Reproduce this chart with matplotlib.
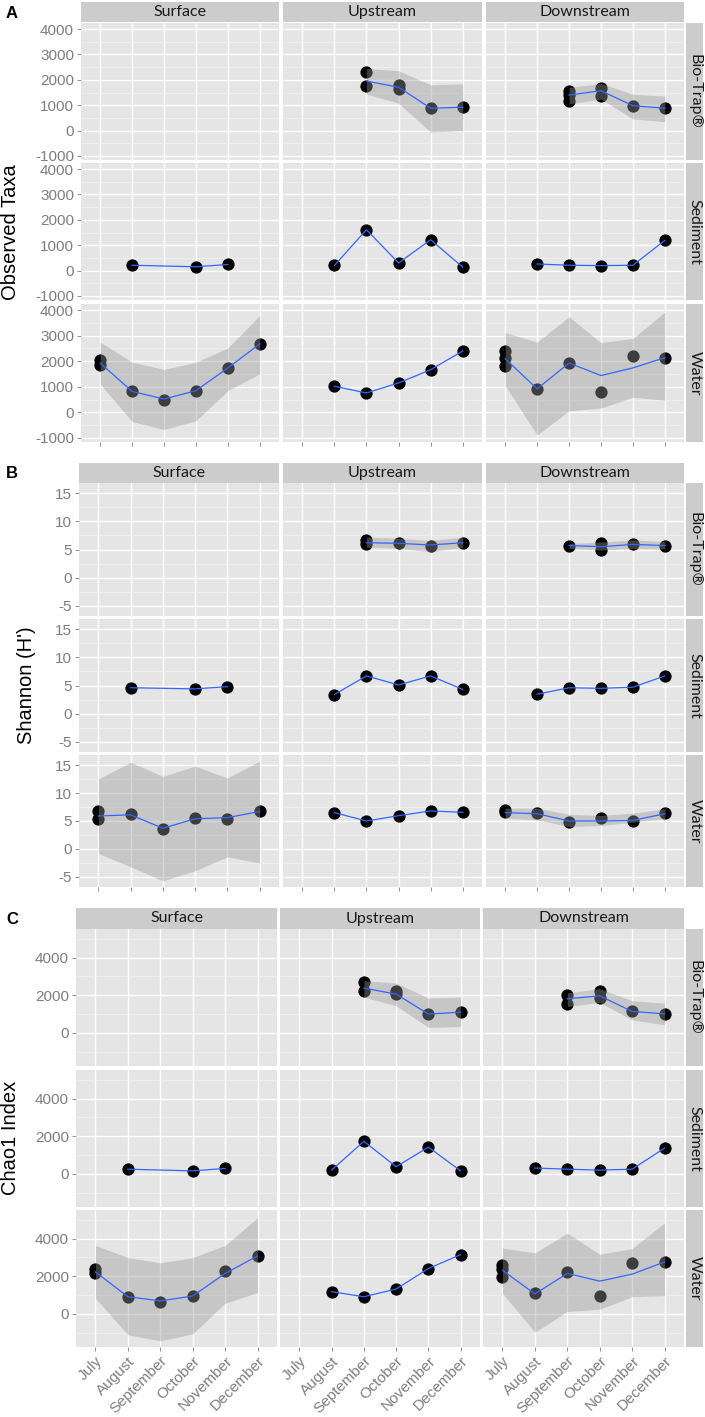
import matplotlib.pyplot as plt
import numpy as np

plt.rcParams['axes.unicode_minus'] = False

W, H = 705, 1417
months = ['July', 'August', 'September', 'October', 'November', 'December']
mon = ['Jul', 'Aug', 'Sep', 'Oct', 'Nov', 'Dec']
sites = ['Surface', 'Upstream', 'Downstream']
sample_types = ['Bio-Trap®', 'Sediment', 'Water']

# ---------------- A: Observed Taxa ----------------
obs_bio_up_x = ['Sep', 'Sep', 'Oct', 'Oct', 'Nov', 'Dec']
obs_bio_up_y = [2320, 1760, 1800, 1620, 880, 920]
obs_bio_up_fit = [1950, 1710, 880, 920]
obs_bio_up_lo = [1440, 1080, -60, 0]
obs_bio_up_hi = [2450, 2360, 1800, 1840]

obs_bio_dn_x = ['Sep', 'Sep', 'Sep', 'Oct', 'Oct', 'Nov', 'Dec']
obs_bio_dn_y = [1550, 1400, 1170, 1670, 1380, 950, 880]
obs_bio_dn_fit = [1400, 1570, 980, 880]
obs_bio_dn_lo = [1050, 1240, 460, 350]
obs_bio_dn_hi = [1700, 1860, 1430, 1360]

obs_sed_su_x = ['Aug', 'Oct', 'Nov']
obs_sed_su_y = [210, 150, 240]
obs_sed_up_x = ['Aug', 'Sep', 'Oct', 'Nov', 'Dec']
obs_sed_up_y = [200, 1610, 300, 1215, 135]
obs_sed_dn_x = ['Aug', 'Sep', 'Oct', 'Nov', 'Dec']
obs_sed_dn_y = [260, 210, 195, 210, 1190]

obs_wat_su_x = ['Jul', 'Jul', 'Aug', 'Sep', 'Oct', 'Nov', 'Dec']
obs_wat_su_y = [2050, 1860, 820, 500, 850, 1740, 2680]
obs_wat_su_fit = [1930, 820, 520, 850, 1740, 2680]
obs_wat_su_lo = [1110, -360, -670, -330, 850, 1510]
obs_wat_su_hi = [2750, 1965, 1680, 1965, 2520, 3800]

obs_wat_up_x = ['Aug', 'Sep', 'Oct', 'Nov', 'Dec']
obs_wat_up_y = [1020, 760, 1150, 1670, 2400]

obs_wat_dn_x = ['Jul', 'Jul', 'Jul', 'Aug', 'Sep', 'Oct', 'Nov', 'Dec']
obs_wat_dn_y = [2390, 2140, 1800, 920, 1930, 780, 2190, 2140]
obs_wat_dn_fit = [2100, 920, 1930, 1440, 1740, 2140]
obs_wat_dn_lo = [1050, -890, 60, 170, 590, 480]
obs_wat_dn_hi = [3120, 2750, 3740, 2730, 2890, 3930]

# ---------------- B: Shannon ----------------
sha_bio_up_x = ['Sep', 'Sep', 'Oct', 'Nov', 'Dec']
sha_bio_up_y = [6.7, 5.9, 6.1, 5.6, 6.2]
sha_bio_up_fit = [6.2, 6.1, 5.8, 6.2]
sha_bio_up_lo = [5.4, 5.2, 4.6, 5.4]
sha_bio_up_hi = [7.2, 7.0, 6.6, 7.2]

sha_bio_dn_x = ['Sep', 'Oct', 'Oct', 'Nov', 'Dec']
sha_bio_dn_y = [5.7, 6.2, 5.0, 5.9, 5.7]
sha_bio_dn_fit = [5.7, 5.5, 5.9, 5.7]
sha_bio_dn_lo = [5.2, 4.9, 5.2, 5.1]
sha_bio_dn_hi = [6.1, 6.3, 6.7, 6.4]

sha_sed_su_x = ['Aug', 'Oct', 'Nov']
sha_sed_su_y = [4.6, 4.4, 4.8]
sha_sed_up_x = ['Aug', 'Sep', 'Oct', 'Nov', 'Dec']
sha_sed_up_y = [3.4, 6.7, 5.1, 6.7, 4.3]
sha_sed_dn_x = ['Aug', 'Sep', 'Oct', 'Nov', 'Dec']
sha_sed_dn_y = [3.45, 4.6, 4.5, 4.7, 6.7]

sha_wat_su_x = ['Jul', 'Jul', 'Aug', 'Sep', 'Oct', 'Nov', 'Dec']
sha_wat_su_y = [6.7, 5.3, 6.2, 3.6, 5.5, 5.3, 6.8]
sha_wat_su_fit = [5.9, 6.1, 3.7, 5.4, 5.6, 6.7]
sha_wat_su_lo = [-0.8, -3.2, -5.7, -3.9, -1.4, -2.5]
sha_wat_su_hi = [12.5, 15.5, 13.0, 14.8, 12.7, 15.7]

sha_wat_up_x = ['Aug', 'Sep', 'Oct', 'Nov', 'Dec']
sha_wat_up_y = [6.5, 5.0, 5.95, 6.8, 6.55]

sha_wat_dn_x = ['Jul', 'Jul', 'Aug', 'Sep', 'Oct', 'Nov', 'Dec']
sha_wat_dn_y = [6.9, 6.6, 6.4, 4.9, 5.5, 5.0, 6.5]
sha_wat_dn_fit = [6.5, 6.3, 5.0, 5.0, 5.1, 6.3]
sha_wat_dn_lo = [5.5, 5.2, 4.0, 4.2, 4.8, 5.4]
sha_wat_dn_hi = [7.3, 7.3, 6.2, 6.0, 6.4, 7.2]

# ---------------- C: Chao1 ----------------
cha_bio_up_x = ['Sep', 'Sep', 'Oct', 'Oct', 'Nov', 'Dec']
cha_bio_up_y = [2680, 2200, 2200, 2050, 1000, 1100]
cha_bio_up_fit = [2380, 2060, 1000, 1100]
cha_bio_up_lo = [1900, 1440, 290, 340]
cha_bio_up_hi = [2770, 2650, 1850, 1900]

cha_bio_dn_x = ['Sep', 'Sep', 'Oct', 'Oct', 'Nov', 'Dec']
cha_bio_dn_y = [1990, 1550, 2200, 1850, 1170, 1010]
cha_bio_dn_fit = [1810, 1970, 1140, 1010]
cha_bio_dn_lo = [1400, 1620, 690, 430]
cha_bio_dn_hi = [2120, 2350, 1710, 1580]

cha_sed_su_x = ['Aug', 'Oct', 'Nov']
cha_sed_su_y = [250, 160, 290]
cha_sed_up_x = ['Aug', 'Sep', 'Oct', 'Nov', 'Dec']
cha_sed_up_y = [200, 1730, 380, 1420, 160]
cha_sed_dn_x = ['Aug', 'Sep', 'Oct', 'Nov', 'Dec']
cha_sed_dn_y = [310, 250, 200, 250, 1370]

cha_wat_su_x = ['Jul', 'Jul', 'Aug', 'Sep', 'Oct', 'Nov', 'Dec']
cha_wat_su_y = [2410, 2150, 910, 620, 950, 2290, 3080]
cha_wat_su_fit = [2230, 910, 690, 950, 2150, 3080]
cha_wat_su_lo = [830, -1110, -1430, -1060, 570, 1130]
cha_wat_su_hi = [3640, 2990, 2710, 2990, 3640, 5110]

cha_wat_up_x = ['Aug', 'Sep', 'Oct', 'Nov', 'Dec']
cha_wat_up_y = [1180, 910, 1320, 2410, 3150]

cha_wat_dn_x = ['Jul', 'Jul', 'Jul', 'Aug', 'Sep', 'Oct', 'Nov', 'Dec']
cha_wat_dn_y = [2620, 2380, 1970, 1090, 2230, 950, 2680, 2760]
cha_wat_dn_fit = [2320, 1060, 2150, 1740, 2110, 2760]
cha_wat_dn_lo = [1090, -970, 120, 250, 910, 970]
cha_wat_dn_hi = [3500, 3240, 4290, 3170, 3470, 4840]

# panel lookup: (row, col) -> (x, y, fit, lo, hi)
obs_panels = {
    (0, 1): (obs_bio_up_x, obs_bio_up_y, obs_bio_up_fit, obs_bio_up_lo, obs_bio_up_hi),
    (0, 2): (obs_bio_dn_x, obs_bio_dn_y, obs_bio_dn_fit, obs_bio_dn_lo, obs_bio_dn_hi),
    (1, 0): (obs_sed_su_x, obs_sed_su_y, obs_sed_su_y, None, None),
    (1, 1): (obs_sed_up_x, obs_sed_up_y, obs_sed_up_y, None, None),
    (1, 2): (obs_sed_dn_x, obs_sed_dn_y, obs_sed_dn_y, None, None),
    (2, 0): (obs_wat_su_x, obs_wat_su_y, obs_wat_su_fit, obs_wat_su_lo, obs_wat_su_hi),
    (2, 1): (obs_wat_up_x, obs_wat_up_y, obs_wat_up_y, None, None),
    (2, 2): (obs_wat_dn_x, obs_wat_dn_y, obs_wat_dn_fit, obs_wat_dn_lo, obs_wat_dn_hi),
}
sha_panels = {
    (0, 1): (sha_bio_up_x, sha_bio_up_y, sha_bio_up_fit, sha_bio_up_lo, sha_bio_up_hi),
    (0, 2): (sha_bio_dn_x, sha_bio_dn_y, sha_bio_dn_fit, sha_bio_dn_lo, sha_bio_dn_hi),
    (1, 0): (sha_sed_su_x, sha_sed_su_y, sha_sed_su_y, None, None),
    (1, 1): (sha_sed_up_x, sha_sed_up_y, sha_sed_up_y, None, None),
    (1, 2): (sha_sed_dn_x, sha_sed_dn_y, sha_sed_dn_y, None, None),
    (2, 0): (sha_wat_su_x, sha_wat_su_y, sha_wat_su_fit, sha_wat_su_lo, sha_wat_su_hi),
    (2, 1): (sha_wat_up_x, sha_wat_up_y, sha_wat_up_y, None, None),
    (2, 2): (sha_wat_dn_x, sha_wat_dn_y, sha_wat_dn_fit, sha_wat_dn_lo, sha_wat_dn_hi),
}
cha_panels = {
    (0, 1): (cha_bio_up_x, cha_bio_up_y, cha_bio_up_fit, cha_bio_up_lo, cha_bio_up_hi),
    (0, 2): (cha_bio_dn_x, cha_bio_dn_y, cha_bio_dn_fit, cha_bio_dn_lo, cha_bio_dn_hi),
    (1, 0): (cha_sed_su_x, cha_sed_su_y, cha_sed_su_y, None, None),
    (1, 1): (cha_sed_up_x, cha_sed_up_y, cha_sed_up_y, None, None),
    (1, 2): (cha_sed_dn_x, cha_sed_dn_y, cha_sed_dn_y, None, None),
    (2, 0): (cha_wat_su_x, cha_wat_su_y, cha_wat_su_fit, cha_wat_su_lo, cha_wat_su_hi),
    (2, 1): (cha_wat_up_x, cha_wat_up_y, cha_wat_up_y, None, None),
    (2, 2): (cha_wat_dn_x, cha_wat_dn_y, cha_wat_dn_fit, cha_wat_dn_lo, cha_wat_dn_hi),
}

# layout of the three blocks, in pixels
blocks = [
    dict(letter='A', ylabel='Observed Taxa', panels=obs_panels, ylim=(-1160, 4240),
         major=[-1000, 0, 1000, 2000, 3000, 4000], minor=np.arange(-500, 4000, 1000),
         cols=[(81, 279), (283, 482), (486, 684)], rows=[(23, 160), (163, 300), (304, 442)],
         strip=(2, 22), letter_y=13, label_x=11, xlabels=False),
    dict(letter='B', ylabel="Shannon (H')", panels=sha_panels, ylim=(-6.8, 16.8),
         major=[-5, 0, 5, 10, 15], minor=[-2.5, 2.5, 7.5, 12.5],
         cols=[(79, 279), (283, 482), (486, 684)], rows=[(483, 616), (619, 752), (755, 887)],
         strip=(463, 483), letter_y=474, label_x=26, xlabels=False),
    dict(letter='C', ylabel='Chao1 Index', panels=cha_panels, ylim=(-1760, 5520),
         major=[0, 2000, 4000], minor=[-1000, 1000, 3000, 5000],
         cols=[(76, 277), (280, 480), (483, 684)], rows=[(929, 1066), (1070, 1207), (1210, 1347)],
         strip=(908, 929), letter_y=919, label_x=11, xlabels=True),
]

fig = plt.figure(figsize=(W / 100, H / 100), dpi=100)
fig.patch.set_facecolor('white')

TICK_FONT = ['Liberation Sans', 'DejaVu Sans']
STRIP_FONT = ['Lato', 'DejaVu Sans']


def px_axes(x0, x1, y0, y1):
    return fig.add_axes([x0 / W, 1 - y1 / H, (x1 - x0) / W, (y1 - y0) / H])


def strip_box(x0, x1, y0, y1, text, rot):
    sax = px_axes(x0, x1, y0, y1)
    sax.set_facecolor('#CCCCCC')
    sax.set_xticks([])
    sax.set_yticks([])
    for s in sax.spines.values():
        s.set_visible(False)
    sax.text(0.5, 0.5, text, rotation=rot, ha='center', va='center',
             fontsize=11.5, color='#1A1A1A', family=STRIP_FONT, transform=sax.transAxes)


for b in blocks:
    for r, (y0, y1) in enumerate(b['rows']):
        for c, (x0, x1) in enumerate(b['cols']):
            ax = px_axes(x0, x1, y0, y1)
            ax.set_facecolor('#E5E5E5')
            for s in ax.spines.values():
                s.set_visible(False)
            ax.set_xlim(0.4, 6.6)
            ax.set_ylim(*b['ylim'])
            ax.set_xticks(range(1, 7))
            ax.set_yticks(b['major'])
            ax.set_yticks(b['minor'], minor=True)
            ax.set_axisbelow(True)
            ax.grid(True, which='major', color='white', linewidth=1.0)
            ax.grid(True, which='minor', axis='y', color='#F2F2F2', linewidth=0.5)
            ax.tick_params(which='minor', length=0)
            ax.tick_params(which='major', length=3, width=0.6, color='#7F7F7F',
                           labelcolor='#7F7F7F', labelsize=11, pad=2)
            for lab in ax.get_yticklabels():
                lab.set_family(TICK_FONT)
            if c != 0:
                ax.tick_params(axis='y', length=0, labelleft=False)
            if r != 2:
                ax.tick_params(axis='x', length=0, labelbottom=False)
            elif b['xlabels']:
                ax.set_xticklabels(months, rotation=45, ha='right', va='top',
                                   rotation_mode='anchor', family=TICK_FONT)
            else:
                ax.tick_params(axis='x', labelbottom=False)

            if (r, c) in b['panels']:
                px, py, fit, lo, hi = b['panels'][(r, c)]
                xs = [mon.index(m) + 1 for m in px]
                fx = sorted(set(xs))
                ax.scatter(xs, py, s=78, color='black', linewidths=0, zorder=3)
                if lo is not None:
                    ax.fill_between(fx, lo, hi, color='#999999', alpha=0.4,
                                    linewidth=0, zorder=4)
                ax.plot(fx, fit, color='#3366FF', linewidth=0.9, zorder=5)

        strip_box(686, 703, y0, y1, sample_types[r], 270)

    for c, (x0, x1) in enumerate(b['cols']):
        strip_box(x0, x1, b['strip'][0], b['strip'][1], sites[c], 0)

    yc = (b['rows'][0][0] + b['rows'][2][1]) / 2
    fig.text(b['label_x'] / W, 1 - yc / H, b['ylabel'], rotation=90, ha='center',
             va='center', fontsize=14.5, family=TICK_FONT, color='black')
    fig.text(12 / W, 1 - b['letter_y'] / H, b['letter'], ha='center', va='center',
             fontsize=12, fontweight='bold', family=TICK_FONT, color='black')

fig.savefig('out.png', dpi=100)
